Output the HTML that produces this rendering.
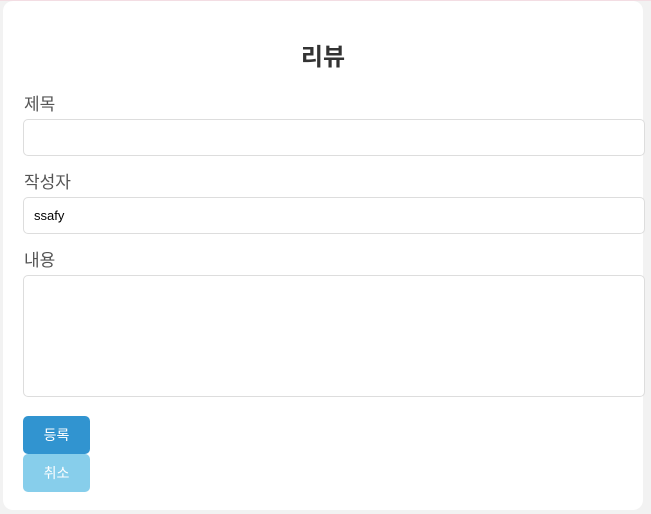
<!DOCTYPE html>
<html><head><meta charset="utf-8"><style>
body{margin:0;width:651px;height:514px;background:#f2f2f2;font-family:"Liberation Sans","Noto Sans CJK KR",sans-serif;overflow:hidden;position:relative}
.topline{position:absolute;left:0;top:0;width:651px;height:1px;background:#f3dde3}
.card{position:absolute;left:3px;top:1px;width:640px;height:509px;background:#fff;border-radius:10px}
h2{position:absolute;left:0;width:646px;top:43px;margin:0;text-align:center;font-size:24px;font-weight:bold;color:#333;line-height:30px}
label{position:absolute;left:24px;font-size:17px;color:#555;line-height:20px}
.inp{position:absolute;left:23px;width:622px;border:1px solid #ddd;border-radius:5px;background:#fff;font-size:13px;color:#000;box-sizing:border-box;padding-left:10px}
.btn{position:absolute;left:23px;width:67px;height:38px;border-radius:5px;color:#fff;font-size:14px;text-align:center;line-height:38px}
</style></head><body>
<div class="topline"></div>
<div class="card"></div>
<h2>리뷰</h2>
<label style="top:95px">제목</label>
<div class="inp" style="top:119px;height:37px"></div>
<label style="top:173px">작성자</label>
<div class="inp" style="top:197px;height:37px;line-height:35px">ssafy</div>
<label style="top:251px">내용</label>
<div class="inp" style="top:275px;height:122px"></div>
<div class="btn" style="top:416px;background:#3194d0">등록</div>
<div class="btn" style="top:454px;background:#87ceeb">취소</div>
</body></html>
